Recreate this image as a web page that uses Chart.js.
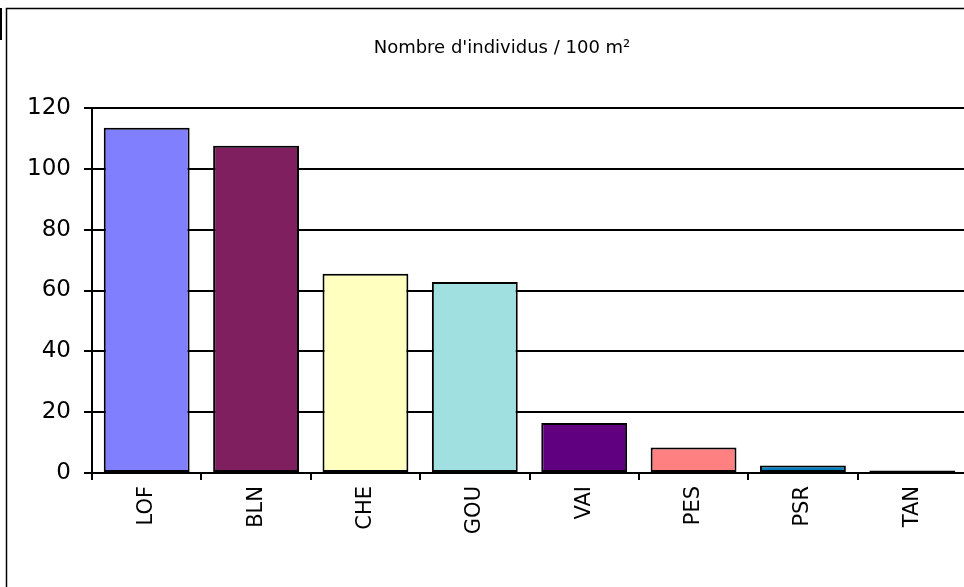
<!DOCTYPE html>
<html>
<head>
<meta charset="utf-8">
<script src="https://cdn.jsdelivr.net/npm/chart.js@4.4.1/dist/chart.umd.min.js"></script>
<style>
  body { margin: 0; overflow: hidden; background: #fff; }
</style>
</head>
<body>
<canvas id="graphique" width="967" height="587"></canvas>
<script>
// données
var especes = ["LOF", "BLN", "CHE", "GOU", "VAI", "PES", "PSR", "TAN"];
var densites = [113.5, 107.6, 65.5, 62.8, 16.4, 8.4, 2.5, 0.8];
var couleurs = ["#8080FF", "#7F1F5F", "#FFFFC0", "#A0E0E0", "#600080", "#FF8080", "#0080C0", "#C0C0FF"];
var titre = "Nombre d'individus / 100 m²";

// cadre + titre (dessinés à la main)
var cadre = {
  id: "cadre",
  afterDraw: function (chart) {
    var c = chart.ctx;
    c.save();
    c.strokeStyle = "#000";
    c.lineWidth = 1.5;
    c.beginPath();
    c.moveTo(6.5, chart.height);
    c.lineTo(6.5, 8.5);
    c.lineTo(chart.width, 8.5);
    c.stroke();
    c.lineWidth = 2;
    c.beginPath();
    c.moveTo(1, 8);
    c.lineTo(1, 40);
    c.stroke();
    c.fillStyle = "#000";
    c.font = "18px 'DejaVu Sans'";
    c.textAlign = "center";
    c.textBaseline = "middle";
    c.fillText(titre, 502, 48);
    c.restore();
  },
};

var dados = {
  type: "bar",
  data: {
    labels: especes,
    datasets: [
      {
        data: densites,
        backgroundColor: couleurs,
        borderColor: "#000",
        borderWidth: 2,
        borderSkipped: false,
        barPercentage: 0.785,
        categoryPercentage: 1,
      },
    ],
  },
  options: {
    responsive: false,
    animation: false,
    layout: { padding: { top: 108, left: 0, right: 0, bottom: 0 } },
    plugins: {
      legend: { display: false },
      tooltip: { enabled: false },
    },
    scales: {
      x: {
        afterFit: function (scale) {
          scale.height = 114;
        },
        grid: {
          offset: true,
          drawOnChartArea: false,
          color: "#000",
          lineWidth: 2,
          tickLength: 7,
        },
        border: { color: "#000", width: 2 },
        ticks: {
          color: "#000",
          font: { family: "DejaVu Sans", size: 21 },
          minRotation: 90,
          maxRotation: 90,
          padding: 6,
        },
      },
      y: {
        min: 0,
        max: 120,
        afterFit: function (scale) {
          scale.width = 92;
        },
        grid: {
          color: "#000",
          lineWidth: 2,
          tickLength: 8,
        },
        border: { color: "#000", width: 2 },
        ticks: {
          stepSize: 20,
          color: "#000",
          font: { family: "DejaVu Sans", size: 23 },
          padding: 13,
        },
      },
    },
  },
  plugins: [cadre],
};

var ctx = document.getElementById("graphique");
var chart_densite = new Chart(ctx, dados);
</script>
</body>
</html>
